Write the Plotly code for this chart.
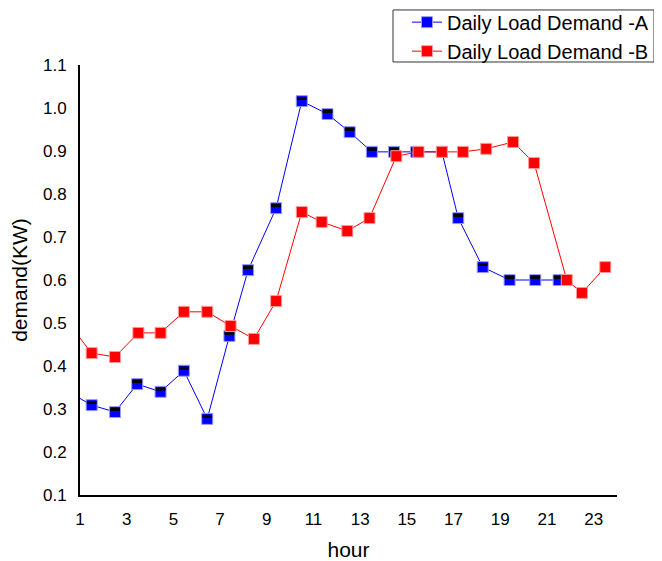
"""Daily load demand, two profiles, as a Plotly line chart."""

import plotly.graph_objects as go

# ── data ──────────────────────────────────────────────────
HOURS_A = [0.5, 1.5, 2.5, 3.45, 4.45, 5.45, 6.45, 7.4, 8.2, 9.4, 10.5, 11.6, 12.55,
           13.5, 14.45, 15.4, 16.5, 17.2, 18.25, 19.4, 20.5, 21.5]
DEMAND_A = [0.34, 0.309, 0.293, 0.358, 0.340, 0.389, 0.277, 0.470, 0.623, 0.767,
            1.016, 0.986, 0.944, 0.898, 0.898, 0.898, 0.898, 0.744, 0.630, 0.600,
            0.600, 0.600]

HOURS_B = [0.5, 1.5, 2.5, 3.5, 4.45, 5.45, 6.45, 7.45, 8.45, 9.4, 10.5, 11.35, 12.45,
           13.4, 14.55, 15.5, 16.5, 17.4, 18.4, 19.55, 20.45, 21.85, 22.5, 23.5]
DEMAND_B = [0.50, 0.430, 0.421, 0.477, 0.477, 0.526, 0.526, 0.493, 0.463, 0.551,
            0.758, 0.735, 0.714, 0.744, 0.888, 0.898, 0.898, 0.898, 0.905, 0.921,
            0.872, 0.600, 0.570, 0.630]

X_TICKS = list(range(1, 24, 2))
Y_TICKS = [0.1, 0.2, 0.3, 0.4, 0.5, 0.6, 0.7, 0.8, 0.9, 1.0, 1.1]

FONT = "Liberation Sans, Arial, sans-serif"

fig = go.Figure()

fig.add_trace(go.Scatter(
    x=HOURS_A, y=DEMAND_A, mode="lines+markers", name="Daily Load Demand -A",
    line=dict(color="#0000ff", width=1),
    marker=dict(symbol="square", size=11, color="#0000ff",
                line=dict(color="#9a9aff", width=1)),
    legendgroup="a",
))
# small black stripe near the top of every blue marker
fig.add_trace(go.Scatter(
    x=HOURS_A, y=[v + 0.006 for v in DEMAND_A], mode="markers",
    marker=dict(symbol="line-ew", size=7, line=dict(color="black", width=3)),
    showlegend=False, legendgroup="a", hoverinfo="skip",
))
fig.add_trace(go.Scatter(
    x=HOURS_B, y=DEMAND_B, mode="lines+markers", name="Daily Load Demand -B",
    line=dict(color="#ff0000", width=1),
    marker=dict(symbol="square", size=11, color="#ff0000",
                line=dict(color="#ff9a9a", width=1)),
    legendgroup="b",
))

# legend frame drawn as a shape so it can be tighter than plotly's own padding
fig.add_shape(
    type="rect", xref="paper", yref="paper",
    x0=0.5453, x1=1.0, y0=1.007, y1=1.128,
    line=dict(color="#333333", width=1), fillcolor="rgba(0,0,0,0)",
)

# page body adds 8px, so margins are trimmed by that much on the left/top
fig.update_layout(
    width=662, height=561,
    font=dict(family=FONT, size=17, color="black"),
    plot_bgcolor="white", paper_bgcolor="white",
    margin=dict(l=72, r=16, t=57, b=74, autoexpand=False),
    showlegend=True,
    legend=dict(
        x=1.0, y=1.145, xanchor="right", yanchor="top",
        borderwidth=0, bgcolor="rgba(0,0,0,0)",
        font=dict(size=20), tracegroupgap=0,
    ),
    xaxis=dict(
        domain=[0, 0.9355],
        range=[1, 24], tickvals=X_TICKS, showgrid=False, zeroline=False,
        showline=True, linecolor="black", linewidth=2, ticks="",
        ticklabelstandoff=8,
        title=dict(text="hour", font=dict(size=21), standoff=14),
        tickfont=dict(size=17),
    ),
    yaxis=dict(
        range=[0.1, 1.1], tickvals=Y_TICKS, tickformat=".1f",
        showgrid=False, zeroline=False,
        showline=True, linecolor="black", linewidth=2, ticks="",
        ticklabelstandoff=8,
        title=dict(text="demand(KW)", font=dict(size=21), standoff=10),
        tickfont=dict(size=17),
    ),
)

fig.write_html("out.html")
